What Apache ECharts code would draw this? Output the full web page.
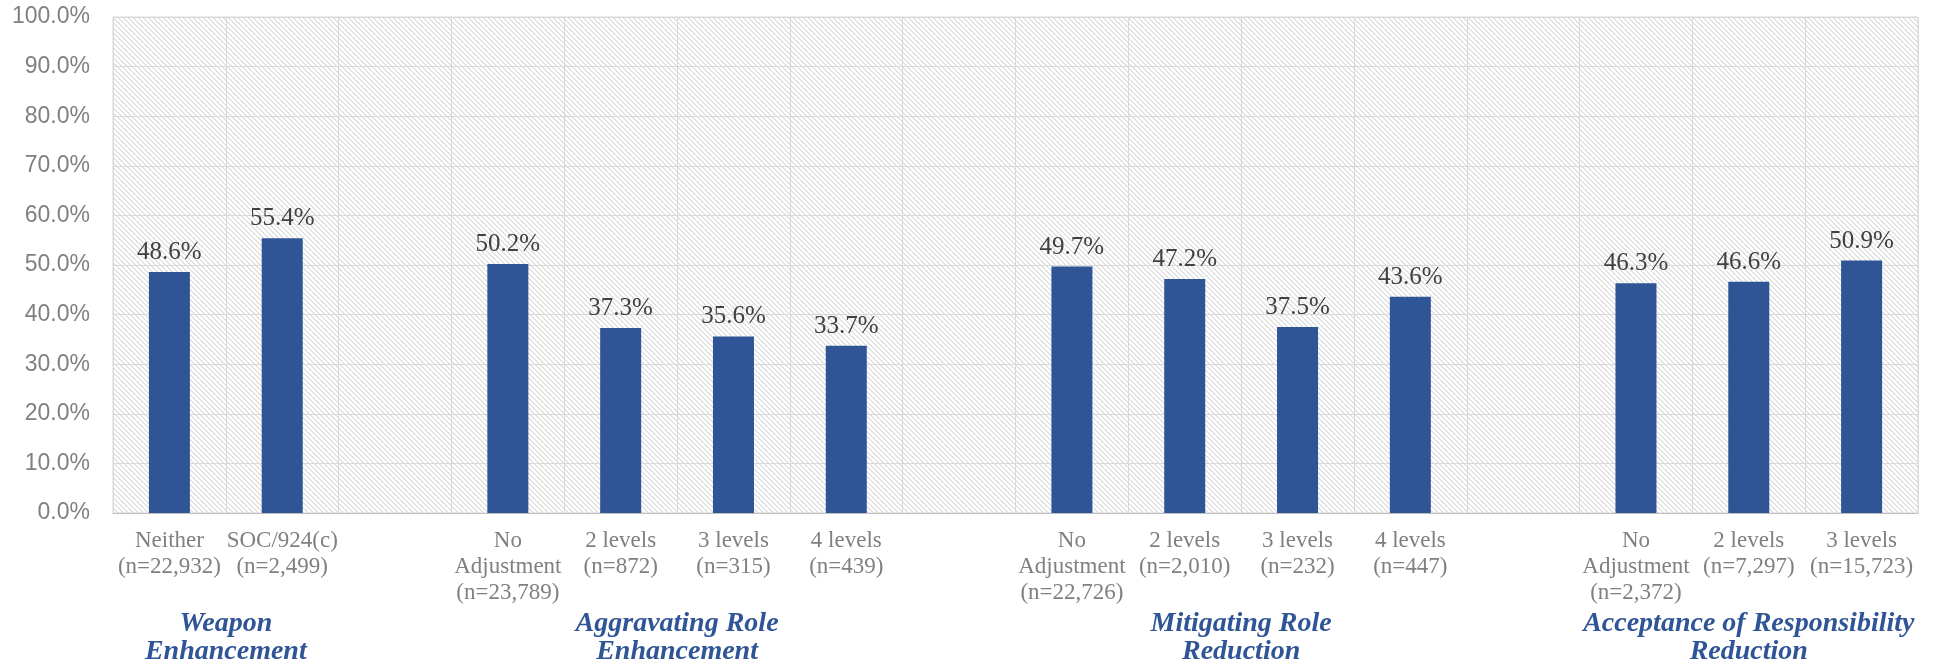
<!DOCTYPE html>
<html>
<head>
<meta charset="utf-8">
<script src="https://cdn.jsdelivr.net/npm/echarts@6/dist/echarts.min.js"></script>
<style>
  html, body { margin: 0; padding: 0; background: #fff; }
  #chart { width: 1940px; height: 664px; }
</style>
</head>
<body>
<div id="chart"></div>
<script>
// categories (blank slots separate the groups)
const categories = [
  'Neither\n(n=22,932)', 'SOC/924(c)\n(n=2,499)', '',
  'No\nAdjustment\n(n=23,789)', '2 levels\n(n=872)', '3 levels\n(n=315)', '4 levels\n(n=439)', '',
  'No\nAdjustment\n(n=22,726)', '2 levels\n(n=2,010)', '3 levels\n(n=232)', '4 levels\n(n=447)', '',
  'No\nAdjustment\n(n=2,372)', '2 levels\n(n=7,297)', '3 levels\n(n=15,723)'
]
// percentages
const values = [
  48.6, 55.4, null,
  50.2, 37.3, 35.6, 33.7, null,
  49.7, 47.2, 37.5, 43.6, null,
  46.3, 46.6, 50.9
]
// group titles and the category range they sit under
const groupTitles = [
  'Weapon\nEnhancement',
  'Aggravating Role\nEnhancement',
  'Mitigating Role\nReduction',
  'Acceptance of Responsibility\nReduction'
]
const groupRanges = [[0, 1], [3, 6], [8, 11], [13, 15]]
const yTicks = [0, 10, 20, 30, 40, 50, 60, 70, 80, 90, 100]

// diagonal hatch for the plot background
const makeHatch = () => {
  const size = 5
  const cv = document.createElement('canvas')
  cv.width = size
  cv.height = size
  const ctx = cv.getContext('2d')
  ctx.fillStyle = '#ffffff'
  ctx.fillRect(0, 0, size, size)
  ctx.fillStyle = '#e2e2e2'
  for (let y = 0; y < size; y++) {
    for (let x = 0; x < size; x++) {
      const d = ((x - y) % size + size) % size
      if (d === 0 || d === 1) ctx.fillRect(x, y, 1, 1)
    }
  }
  return cv
}

const chart = echarts.init(document.getElementById('chart'))
const serif = '"Liberation Serif", serif'

chart.setOption({
  animation: false,
  grid: {
    left: 113,
    right: 22,
    top: 17,
    bottom: 151,
    show: true,
    borderColor: '#d9d9d9',
    borderWidth: 1,
    backgroundColor: { image: makeHatch(), repeat: 'repeat' }
  },
  xAxis: {
    type: 'category',
    data: categories,
    axisLine: { lineStyle: { color: '#bfbfbf', width: 1 } },
    axisTick: { show: false },
    splitLine: { show: true, interval: 0, lineStyle: { color: '#d9d9d9', width: 1 } },
    axisLabel: {
      interval: 0,
      margin: 15,
      color: '#808080',
      fontFamily: serif,
      fontSize: 23,
      lineHeight: 26,
      align: 'center'
    }
  },
  yAxis: {
    type: 'value',
    min: yTicks[0],
    max: yTicks[yTicks.length - 1],
    interval: 10,
    axisLine: { show: false },
    axisTick: { show: false },
    splitLine: { lineStyle: { color: '#d9d9d9', width: 1 } },
    axisLabel: {
      margin: 23,
      color: '#808080',
      fontFamily: '"Liberation Sans", sans-serif',
      fontSize: 23,
      formatter: v => v.toFixed(1) + '%'
    }
  },
  series: [
    {
      type: 'bar',
      data: values,
      barWidth: 41,
      itemStyle: { color: '#2F5597' },
      label: {
        show: true,
        position: 'top',
        distance: 7,
        color: '#404040',
        fontFamily: serif,
        fontSize: 25,
        formatter: p => p.value.toFixed(1) + '%'
      }
    }
  ]
})

// group titles centred under their categories
const titleGraphics = groupTitles.map((t, i) => {
  const [a, b] = groupRanges[i]
  const xa = chart.convertToPixel({ xAxisIndex: 0 }, a)
  const xb = chart.convertToPixel({ xAxisIndex: 0 }, b)
  return {
    type: 'text',
    x: (xa + xb) / 2,
    y: 610,
    style: {
      text: t,
      align: 'center',
      verticalAlign: 'top',
      fill: '#2F5597',
      font: 'italic bold 28px "Liberation Serif", serif',
      lineHeight: 28
    }
  }
})
chart.setOption({ graphic: titleGraphics })
</script>
</body>
</html>
